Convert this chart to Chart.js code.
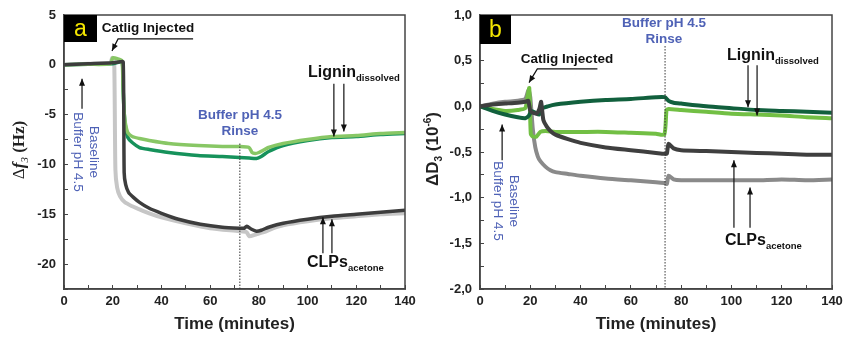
<!DOCTYPE html>
<html>
<head>
<meta charset="utf-8">
<script src="https://cdn.jsdelivr.net/npm/chart.js@4.4.0/dist/chart.umd.min.js"></script>
<style>
  html, body { margin: 0; padding: 0; background: #fff; }
  #wrap { position: relative; width: 847px; height: 339px; }
  canvas { position: absolute; top: 0; }
</style>
</head>
<body>
<div id="wrap">
  <canvas id="chartA" width="418" height="339" style="left:0"></canvas>
  <canvas id="chartB" width="429" height="339" style="left:418px"></canvas>
</div>
<script>
// ---- panel a: frequency shift, delta f3 (Hz) ----
const aClpLightT = [0, 10, 19, 19.8, 20.6, 21.1, 21.8, 23, 25, 28, 30, 35, 40, 50, 60, 72, 75, 76, 79, 82, 86, 90, 100, 110, 120, 130, 140];
const aClpLightV = [0, 0.1, 0.2, 0.7, 0.5, -10.5, -12.3, -13.2, -13.8, -14.2, -14.4, -14.9, -15.3, -15.9, -16.4, -16.7, -16.8, -17.2, -17.0, -16.8, -16.4, -16.1, -15.7, -15.4, -15.2, -15.0, -14.9];

const aClpDarkT = [0, 10, 20, 23, 24.3, 24.7, 25.3, 26.5, 28.5, 31, 35, 40, 47, 56, 65, 72, 74, 75, 77, 79, 81, 84, 90, 100, 110, 120, 130, 140];
const aClpDarkV = [0, 0.1, 0.2, 0.3, 0.3, -10.8, -12.0, -12.8, -13.3, -13.8, -14.4, -14.9, -15.5, -16.0, -16.3, -16.4, -16.4, -16.2, -16.5, -16.7, -16.6, -16.3, -15.9, -15.5, -15.2, -15.0, -14.8, -14.6];

const aLigLightT = [0, 10, 19, 20, 22, 23.8, 24.2, 24.7, 25.3, 26.2, 28, 31, 35, 43, 55, 65, 72, 76, 77.2, 78.5, 80, 84, 90, 100, 110, 120, 130, 140];
const aLigLightV = [0, 0.05, 0.1, 0.7, 0.6, 0.4, -2, -4.8, -6.0, -6.8, -7.2, -7.4, -7.6, -7.9, -8.1, -8.2, -8.2, -8.3, -8.8, -8.9, -8.8, -8.3, -7.9, -7.5, -7.2, -7.1, -6.9, -6.8];

const aLigDarkT = [0, 10, 20, 23.8, 24.2, 24.7, 25.3, 26.2, 28, 31, 35, 43, 55, 65, 72, 76, 79, 81, 84, 90, 100, 110, 120, 130, 140];
const aLigDarkV = [0, 0.05, 0.1, 0.3, -2, -4.8, -6.3, -7.3, -7.8, -8.3, -8.5, -8.8, -9.1, -9.2, -9.3, -9.35, -9.4, -9.2, -8.7, -8.1, -7.6, -7.3, -7.2, -7.0, -6.9];

// ---- panel b: dissipation shift, delta D3 (1e-6) ----
const bLigDarkT = [0, 5, 10, 15, 18, 19.5, 20.5, 22, 23.5, 25, 27, 30, 40, 50, 60, 70, 73.5, 75, 77, 80, 90, 100, 110, 120, 130, 140];
const bLigDarkV = [0, -0.05, -0.09, -0.12, -0.13, -0.1, -0.05, -0.07, -0.09, -0.02, 0.0, 0.02, 0.05, 0.07, 0.08, 0.1, 0.1, 0.06, 0.04, 0.03, 0.0, -0.02, -0.04, -0.05, -0.06, -0.07];

const bLigLightT = [0, 5, 10, 15, 18, 19, 19.6, 20.2, 21, 22.5, 24, 26, 30, 40, 50, 60, 70, 73.3, 74.2, 75, 80, 90, 100, 110, 120, 130, 140];
const bLigLightV = [0, -0.03, -0.05, -0.04, -0.02, 0.12, 0.2, -0.3, -0.33, -0.33, -0.28, -0.27, -0.28, -0.28, -0.28, -0.29, -0.3, -0.31, -0.04, -0.03, -0.04, -0.06, -0.08, -0.09, -0.1, -0.12, -0.13];

const bClpDarkT = [0, 5, 10, 15, 18, 19.2, 20, 21, 22.5, 23.6, 24.3, 25.2, 26.5, 28, 30, 35, 40, 50, 60, 70, 73.3, 74.3, 75, 77, 80, 90, 100, 110, 120, 130, 140];
const bClpDarkV = [0, 0.02, 0.03, 0.04, 0.05, 0.06, -0.05, -0.07, -0.08, -0.03, 0.05, -0.15, -0.22, -0.27, -0.31, -0.36, -0.4, -0.45, -0.48, -0.51, -0.52, -0.52, -0.41, -0.46, -0.48, -0.49, -0.5, -0.51, -0.52, -0.53, -0.53];

const bClpLightT = [0, 5, 10, 15, 18, 19.3, 20, 21, 22, 23, 24, 26, 28, 30, 35, 40, 50, 60, 70, 73.3, 74.3, 75, 77, 80, 90, 100, 110, 120, 130, 140];
const bClpLightV = [0, 0.03, 0.05, 0.06, 0.08, 0.18, 0.1, -0.25, -0.45, -0.55, -0.6, -0.66, -0.7, -0.72, -0.74, -0.76, -0.79, -0.81, -0.83, -0.84, -0.85, -0.76, -0.8, -0.81, -0.81, -0.81, -0.81, -0.8, -0.81, -0.8];

const BLUE = '#4f62b6';
const SANS = '"Liberation Sans", Arial, sans-serif';
const SERIF = '"Liberation Serif", "Times New Roman", serif';

function toXY(t, v) {
  return t.map((x, i) => ({ x: x, y: v[i] }));
}

function line(label, t, v, color, width) {
  return {
    label: label,
    data: toXY(t, v),
    borderColor: color,
    backgroundColor: color,
    borderWidth: width,
    pointRadius: 0,
    tension: 0.2,
    fill: false
  };
}

function arrow(ctx, pts) {
  ctx.beginPath();
  ctx.moveTo(pts[0][0], pts[0][1]);
  for (let i = 1; i < pts.length; i++) ctx.lineTo(pts[i][0], pts[i][1]);
  ctx.stroke();
  const [x1, y1] = pts[pts.length - 2];
  const [x2, y2] = pts[pts.length - 1];
  const a = Math.atan2(y2 - y1, x2 - x1);
  const L = 7, W = 3;
  ctx.beginPath();
  ctx.moveTo(x2, y2);
  ctx.lineTo(x2 - L * Math.cos(a) + W * Math.sin(a), y2 - L * Math.sin(a) - W * Math.cos(a));
  ctx.lineTo(x2 - L * Math.cos(a) - W * Math.sin(a), y2 - L * Math.sin(a) + W * Math.cos(a));
  ctx.closePath();
  ctx.fill();
}

// text made of runs: [text, font, baseline offset]
function runs(ctx, x, y, parts, align) {
  let total = 0;
  parts.forEach(p => { ctx.font = p[1]; total += ctx.measureText(p[0]).width; });
  let cx = align === 'center' ? x - total / 2 : x;
  ctx.textAlign = 'left';
  ctx.textBaseline = 'alphabetic';
  parts.forEach(p => {
    ctx.font = p[1];
    ctx.fillText(p[0], cx, y + (p[2] || 0));
    cx += ctx.measureText(p[0]).width;
  });
}

function panelTag(ctx, x, y, w, h, letter) {
  ctx.fillStyle = '#000';
  ctx.fillRect(x, y, w, h);
  ctx.fillStyle = '#f4e600';
  ctx.font = '23px ' + SANS;
  ctx.textAlign = 'center';
  ctx.textBaseline = 'middle';
  ctx.fillText(letter, x + w / 2, y + h / 2 + 1);
}

function rotatedNote(ctx, x, y, lines) {
  ctx.save();
  ctx.translate(x, y);
  ctx.rotate(Math.PI / 2);
  ctx.fillStyle = BLUE;
  ctx.font = '13.5px ' + SANS;
  ctx.textAlign = 'center';
  ctx.textBaseline = 'middle';
  lines.forEach((s, i) => ctx.fillText(s, 0, i * 16));
  ctx.restore();
}

function notes(drawFn) {
  return {
    id: 'notes',
    afterDatasetsDraw(chart) {
      const { ctx, chartArea, scales } = chart;
      const X = v => scales.x.getPixelForValue(v);
      const Y = v => scales.y.getPixelForValue(v);
      const P = (t, v) => [X(t), Y(v)];
      ctx.save();
      ctx.strokeStyle = '#444';
      ctx.lineWidth = 1.5;
      ctx.strokeRect(chartArea.left, chartArea.top, chartArea.width, chartArea.height);
      drawFn(ctx, X, Y, P, chartArea);
      ctx.restore();
    }
  };
}

function options(yMin, yMax, yStep, yLabel, yAxisWidth, padRight) {
  return {
    responsive: false,
    animation: false,
    devicePixelRatio: 1,
    layout: { padding: { left: 0, top: 15, right: padRight, bottom: 0 } },
    plugins: { legend: { display: false }, tooltip: { enabled: false } },
    scales: {
      x: {
        type: 'linear',
        position: 'bottom',
        min: 0,
        max: 140,
        afterFit: s => { s.height = 50; s.paddingLeft = 0; s.paddingRight = 0; },
        ticks: {
          stepSize: 10,
          autoSkip: false,
          maxRotation: 0,
          padding: 9,
          color: '#222',
          font: { family: SANS, size: 13, weight: 'bold' },
          callback: v => (v % 20 === 0 ? String(v) : '')
        },
        grid: { drawOnChartArea: false, tickLength: -4, color: '#444', lineWidth: 1 },
        border: { color: '#444', width: 1.5 },
        title: {
          display: true,
          text: 'Time (minutes)',
          color: '#222',
          font: { family: SANS, size: 17, weight: 'bold' },
          padding: { top: 0, bottom: 4 }
        }
      },
      y: {
        type: 'linear',
        min: yMin,
        max: yMax,
        afterFit: s => { s.width = yAxisWidth; s.paddingTop = 0; s.paddingBottom = 0; },
        ticks: {
          stepSize: yStep,
          autoSkip: false,
          padding: 12,
          color: '#222',
          font: { family: SANS, size: 13, weight: 'bold' },
          callback: yLabel
        },
        grid: { drawOnChartArea: false, tickLength: -4, color: '#444', lineWidth: 1 },
        border: { color: '#444', width: 1.5 }
      }
    }
  };
}

// ---------- chart a ----------
new Chart(document.getElementById('chartA'), {
  type: 'line',
  data: {
    datasets: [
      line('CLPs acetone (2)', aClpDarkT, aClpDarkV, '#3d3d3d', 3.5),
      line('Lignin dissolved (1)', aLigLightT, aLigLightV, '#88c765', 3.5),
      line('Lignin dissolved (2)', aLigDarkT, aLigDarkV, '#16925b', 3.5),
      line('CLPs acetone (1)', aClpLightT, aClpLightV, '#c6c6c6', 4)
    ]
  },
  options: options(-22.5, 5, 2.5, v => (v % 5 === 0 ? String(v) : ''), 64, 13),
  plugins: [notes((ctx, X, Y, P, area) => {
    // rinse marker
    ctx.save();
    ctx.strokeStyle = '#333';
    ctx.lineWidth = 1;
    ctx.setLineDash([1.5, 1.5]);
    ctx.beginPath();
    ctx.moveTo(X(72.2), Y(-7.9));
    ctx.lineTo(X(72.2), area.bottom);
    ctx.stroke();
    ctx.restore();

    panelTag(ctx, area.left, area.top, 33, 27, 'a');

    ctx.fillStyle = '#111';
    ctx.strokeStyle = '#111';
    ctx.lineWidth = 1.2;
    arrow(ctx, [P(53, 2.6), P(22.2, 2.6), P(19.7, 1.4)]);
    arrow(ctx, [P(7.4, -4.4), P(7.4, -1.4)]);
    arrow(ctx, [P(110.8, -1.9), P(110.8, -7.2)]);
    arrow(ctx, [P(114.9, -1.9), P(114.9, -6.7)]);
    arrow(ctx, [P(106.3, -18.9), P(106.3, -15.3)]);
    arrow(ctx, [P(110, -18.9), P(110, -15.5)]);

    ctx.fillStyle = '#111';
    ctx.font = 'bold 13.5px ' + SANS;
    ctx.textAlign = 'center';
    ctx.textBaseline = 'middle';
    ctx.fillText('Catlig Injected', 148, 28);

    runs(ctx, 308, 77, [['Lignin', 'bold 16px ' + SANS], ['dissolved', 'bold 9.5px ' + SANS, 4]]);
    runs(ctx, 307, 267, [['CLPs', 'bold 16px ' + SANS], ['acetone', 'bold 9.5px ' + SANS, 4]]);

    ctx.fillStyle = BLUE;
    ctx.font = 'bold 13.5px ' + SANS;
    ctx.textAlign = 'center';
    ctx.textBaseline = 'middle';
    ctx.fillText('Buffer pH 4.5', 240, 115);
    ctx.fillText('Rinse', 240, 131);

    rotatedNote(ctx, 94, 152, ['Baseline', 'Buffer pH 4.5']);

    // y axis title
    ctx.save();
    ctx.translate(24, 150);
    ctx.rotate(-Math.PI / 2);
    ctx.fillStyle = '#222';
    runs(ctx, 0, 0, [
      ['\u0394', '17px ' + SERIF],
      ['f', 'italic bold 17px ' + SERIF],
      ['3', 'italic 11px ' + SERIF, 4],
      [' (Hz)', 'bold 17px ' + SERIF]
    ], 'center');
    ctx.restore();
  })]
});

// ---------- chart b ----------
new Chart(document.getElementById('chartB'), {
  type: 'line',
  data: {
    datasets: [
      line('CLPs acetone (2)', bClpDarkT, bClpDarkV, '#3f3f3f', 4),
      line('Lignin dissolved (2)', bLigDarkT, bLigDarkV, '#11603d', 4),
      line('Lignin dissolved (1)', bLigLightT, bLigLightV, '#72bf44', 4),
      line('CLPs acetone (1)', bClpLightT, bClpLightV, '#8a8a8a', 4)
    ]
  },
  options: options(-2, 1, 0.25, v => {
    const k = v * 2;
    return Math.abs(k - Math.round(k)) < 1e-6 ? v.toFixed(1).replace('.', ',') : '';
  }, 62, 15),
  plugins: [notes((ctx, X, Y, P, area) => {
    ctx.save();
    ctx.strokeStyle = '#333';
    ctx.lineWidth = 1;
    ctx.setLineDash([1.5, 1.5]);
    ctx.beginPath();
    ctx.moveTo(X(73.6), Y(0.66));
    ctx.lineTo(X(73.6), area.bottom);
    ctx.stroke();
    ctx.restore();

    panelTag(ctx, area.left, area.top, 31, 29, 'b');

    ctx.fillStyle = '#111';
    ctx.strokeStyle = '#111';
    ctx.lineWidth = 1.2;
    arrow(ctx, [P(46.7, 0.41), P(22.8, 0.41), P(19.5, 0.26)]);
    arrow(ctx, [P(8.8, -0.59), P(8.8, -0.2)]);
    arrow(ctx, [P(106.6, 0.45), P(106.6, -0.01)]);
    arrow(ctx, [P(110.2, 0.45), P(110.2, -0.1)]);
    arrow(ctx, [P(101, -1.33), P(101, -0.59)]);
    arrow(ctx, [P(107.4, -1.33), P(107.4, -0.89)]);

    ctx.fillStyle = '#111';
    ctx.font = 'bold 13.5px ' + SANS;
    ctx.textAlign = 'center';
    ctx.textBaseline = 'middle';
    ctx.fillText('Catlig Injected', 149, 59);

    runs(ctx, 309, 60, [['Lignin', 'bold 16px ' + SANS], ['dissolved', 'bold 9.5px ' + SANS, 4]]);
    runs(ctx, 307, 245, [['CLPs', 'bold 16px ' + SANS], ['acetone', 'bold 9.5px ' + SANS, 4]]);

    ctx.fillStyle = BLUE;
    ctx.font = 'bold 13.5px ' + SANS;
    ctx.textAlign = 'center';
    ctx.textBaseline = 'middle';
    ctx.fillText('Buffer pH 4.5', 246, 23);
    ctx.fillText('Rinse', 246, 39);

    rotatedNote(ctx, 96, 201, ['Baseline', 'Buffer pH 4.5']);

    ctx.save();
    ctx.translate(20, 149);
    ctx.rotate(-Math.PI / 2);
    ctx.fillStyle = '#222';
    runs(ctx, 0, 0, [
      ['\u0394D', 'bold 17px ' + SANS],
      ['3', 'bold 10px ' + SANS, 4],
      [' (10', 'bold 17px ' + SANS],
      ['-6', 'bold 10px ' + SANS, -7],
      [')', 'bold 17px ' + SANS]
    ], 'center');
    ctx.restore();
  })]
});
</script>
</body>
</html>
